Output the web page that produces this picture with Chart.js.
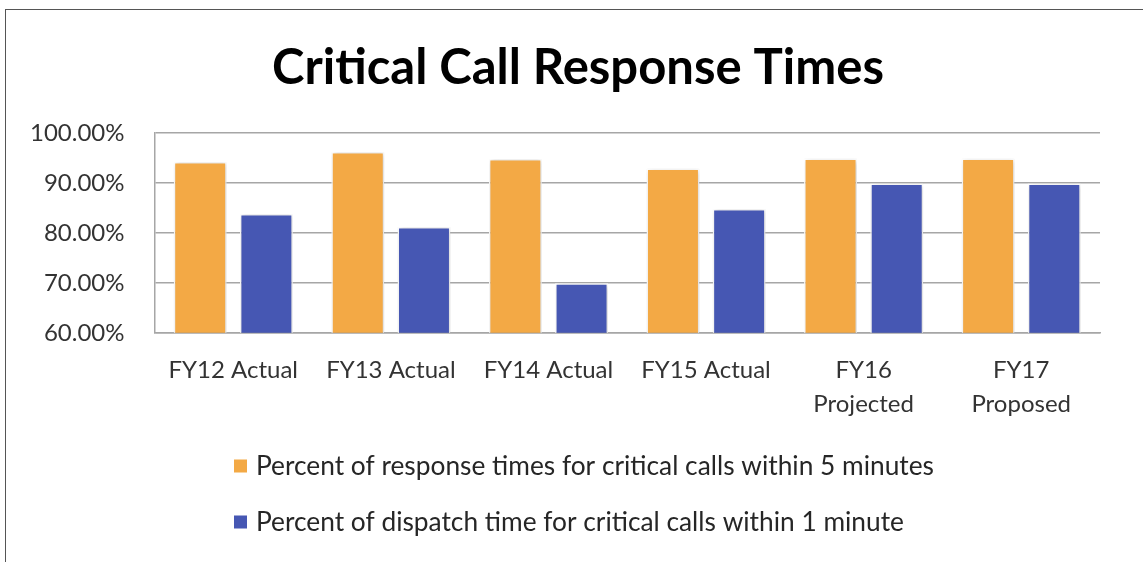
<!DOCTYPE html>
<html>
<head>
<meta charset="utf-8">
<script src="https://cdn.jsdelivr.net/npm/chart.js@4.4.1/dist/chart.umd.min.js"></script>
<style>
  html, body { margin: 0; padding: 0; background: #fff; }
  .frame {
    position: absolute; left: 5px; top: 9px; width: 1150px; height: 600px;
    border-left: 1px solid #555; border-top: 1px solid #555;
  }
  .wrap { position: absolute; left: 0; top: 0; width: 1143px; height: 562px; }
</style>
</head>
<body>
<div class="frame"></div>
<div class="wrap"><canvas id="callChart"></canvas></div>
<script>
const categories = [
  'FY12 Actual', 'FY13 Actual', 'FY14 Actual', 'FY15 Actual',
  ['FY16', 'Projected'], ['FY17', 'Proposed']
];
const responseWithin5 = [94.2, 96.2, 94.8, 92.9, 94.9, 94.9];
const dispatchWithin1 = [83.8, 81.2, 69.9, 84.8, 89.9, 89.9];
const seriesNames = [
  'Percent of response times for critical calls within 5 minutes',
  'Percent of dispatch time for critical calls within 1 minute'
];
const yTicks = [60, 70, 80, 90, 100];
const chartTitle = 'Critical Call Response Times';

const FONT = 'Lato, "Noto Sans", sans-serif';

// soft drop shadow under the bars
const barShadow = {
  id: 'barShadow',
  beforeDatasetsDraw(chart) {
    const ctx = chart.ctx;
    ctx.save();
    ctx.shadowColor = 'rgba(0,0,0,0.22)';
    ctx.shadowBlur = 5;
    ctx.shadowOffsetX = 1;
    ctx.shadowOffsetY = 1;
  },
  afterDatasetsDraw(chart) {
    chart.ctx.restore();
  }
};

// title centred over the whole frame rather than the padded layout box
const frameTitle = {
  id: 'frameTitle',
  afterDraw(chart, args, opts) {
    const ctx = chart.ctx;
    ctx.save();
    ctx.font = 'bold 49px ' + FONT;
    ctx.fillStyle = '#000';
    ctx.textAlign = 'center';
    ctx.textBaseline = 'alphabetic';
    ctx.fillText(opts.text, 578, 84);
    ctx.restore();
  }
};

// legend drawn as two left-aligned rows under the plot
const stackedLegend = {
  id: 'stackedLegend',
  afterDraw(chart) {
    const ctx = chart.ctx;
    ctx.save();
    ctx.font = '26.3px ' + FONT;
    ctx.textBaseline = 'middle';
    chart.data.datasets.forEach((ds, i) => {
      const y = 466 + i * 56;
      ctx.fillStyle = ds.backgroundColor;
      ctx.fillRect(234, y - 6.5, 13, 13);
      ctx.fillStyle = '#262626';
      ctx.fillText(ds.label, 256, y + 1);
    });
    ctx.restore();
  }
};

new Chart(document.getElementById('callChart'), {
  type: 'bar',
  data: {
    labels: categories,
    datasets: [
      {
        label: seriesNames[0],
        data: responseWithin5,
        backgroundColor: '#F3A945',
        borderColor: '#ffffff',
        borderWidth: 1.5
      },
      {
        label: seriesNames[1],
        data: dispatchWithin1,
        backgroundColor: '#4657B3',
        borderColor: '#ffffff',
        borderWidth: 1.5
      }
    ]
  },
  options: {
    responsive: true,
    maintainAspectRatio: false,
    animation: false,
    categoryPercentage: 0.84,
    barPercentage: 0.8,
    layout: { padding: { left: 0, right: 43, top: 133, bottom: 128 } },
    plugins: {
      legend: { display: false },
      tooltip: { enabled: false },
      title: { display: false },
      frameTitle: { text: chartTitle }
    },
    scales: {
      x: {
        grid: { display: false },
        border: { display: true, color: '#a6a6a6', width: 1.5 },
        ticks: {
          color: '#333',
          font: { family: FONT, size: 24, lineHeight: 1.4 },
          padding: 13,
          maxRotation: 0,
          autoSkip: false
        }
      },
      y: {
        min: 60,
        max: 100,
        afterBuildTicks(axis) {
          axis.ticks = yTicks.map(v => ({ value: v }));
        },
        grid: { color: '#a6a6a6', lineWidth: 1.5, drawTicks: false },
        border: { display: true, color: '#a6a6a6', width: 1.5 },
        ticks: {
          color: '#333',
          font: { family: FONT, size: 24 },
          padding: 30,
          callback: v => v.toFixed(2) + '%'
        }
      }
    }
  },
  plugins: [barShadow, frameTitle, stackedLegend]
});
</script>
</body>
</html>
